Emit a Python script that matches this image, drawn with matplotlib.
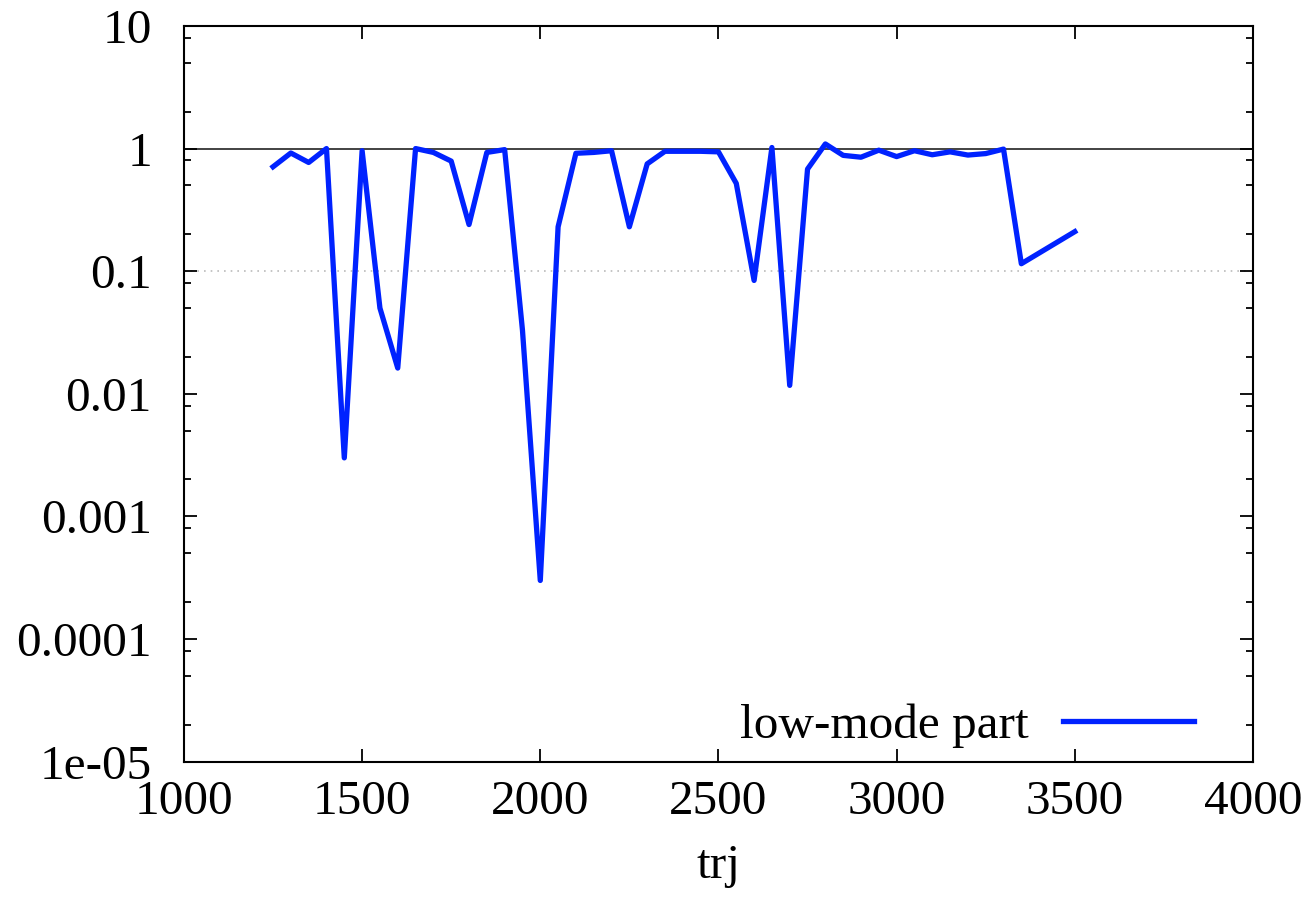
import numpy as np
import matplotlib
matplotlib.use("Agg")
import matplotlib.pyplot as plt
from matplotlib.ticker import FixedLocator, NullFormatter

# データ (trj, low-mode part)
trj = [1250, 1300, 1350, 1400, 1450, 1500, 1550, 1600, 1650, 1700,
       1750, 1800, 1850, 1900, 1950, 2000, 2050, 2100, 2150, 2200,
       2250, 2300, 2350, 2400, 2450, 2500, 2550, 2600, 2650, 2700,
       2750, 2800, 2850, 2900, 2950, 3000, 3050, 3100, 3150, 3200,
       3250, 3300, 3350, 3500]
low_mode = [0.71, 0.92, 0.77, 1.0, 0.0030, 0.96, 0.050, 0.0162, 1.0, 0.93,
            0.79, 0.24, 0.93, 0.98, 0.033, 0.0003, 0.23, 0.915, 0.93, 0.96,
            0.23, 0.75, 0.95, 0.95, 0.95, 0.94, 0.52, 0.084, 1.02, 0.0117,
            0.68, 1.09, 0.88, 0.85, 0.97, 0.86, 0.96, 0.89, 0.94, 0.885,
            0.91, 0.99, 0.115, 0.21]

xticks = [1000, 1500, 2000, 2500, 3000, 3500, 4000]
yticks = [1e-5, 1e-4, 1e-3, 1e-2, 1e-1, 1, 10]
ytick_labels = ["1e-05", "0.0001", "0.001", "0.01", "0.1", "1", "10"]

plt.rcParams['font.family'] = ['Liberation Serif', 'DejaVu Serif']
fs = 35.5

fig = plt.figure(figsize=(13.12, 9.14), dpi=100)
ax = fig.add_axes([0.1402, 0.1668, 0.955 - 0.1402, 0.9716 - 0.1668])

# 基準線
ax.axhline(1.0, color="#222222", lw=1.2, zorder=1)
ax.axhline(0.1, color="#bbbbbb", lw=1.2, ls=(0, (1, 3)), zorder=1)

ax.plot(trj, low_mode, color="#0022ff", lw=3.8, label="low-mode part", zorder=3)

ax.set_yscale("log")
ax.set_xlim(1000, 4000)
ax.set_ylim(1e-5, 10)

ax.set_xticks(xticks)
ax.set_xticklabels([str(v) for v in xticks])
ax.yaxis.set_major_locator(FixedLocator(yticks))
ax.set_yticklabels(ytick_labels)
minor = [m * 10.0**e for e in range(-5, 1) for m in (2, 5, 8)]
ax.yaxis.set_minor_locator(FixedLocator(minor))
ax.yaxis.set_minor_formatter(NullFormatter())

ax.tick_params(axis="both", which="major", direction="in", length=9.5, width=1.3,
               top=True, right=True, labelsize=fs)
ax.tick_params(axis="both", which="minor", direction="in", length=5, width=1.3,
               top=True, right=True)
ax.tick_params(axis="x", which="major", pad=13)
ax.tick_params(axis="y", which="major", pad=23)
for s in ax.spines.values():
    s.set_linewidth(1.5)

ax.set_xlabel("trj", fontsize=fs, labelpad=15)

ax.legend(loc="lower right", bbox_to_anchor=(0.986, -0.042), frameon=False,
          markerfirst=False, fontsize=fs, handlelength=2.65, handletextpad=0.7)

plt.savefig("out.png", dpi=100)
